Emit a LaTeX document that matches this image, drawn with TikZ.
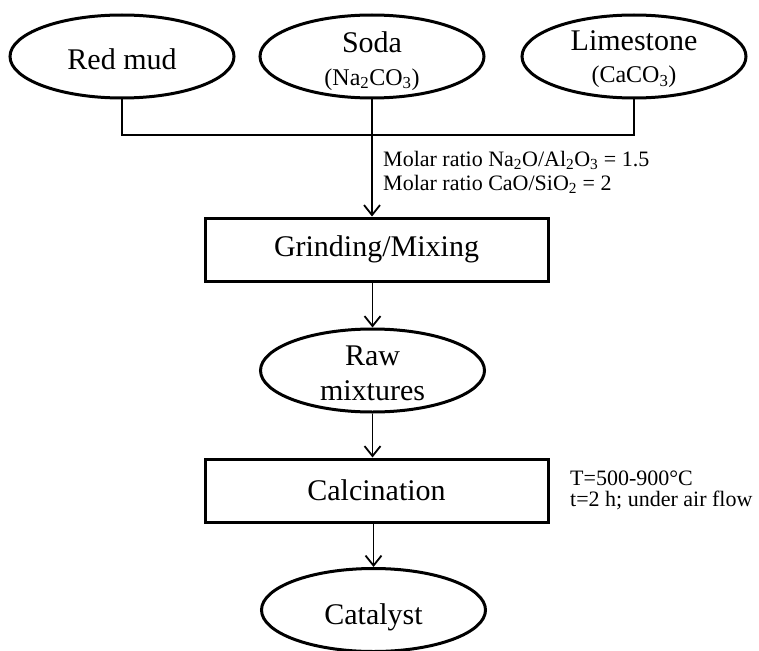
\documentclass[tikz,border=0pt]{standalone}
\usepackage{fontspec}
\setmainfont{Liberation Serif}
\usetikzlibrary{shapes.geometric,arrows.meta}
\newcommand\mybigfont{\fontsize{30}{32}\selectfont}
\newcommand\mymidfont{\fontsize{24}{28}\selectfont}
\newcommand\mysmallfont{\fontsize{22}{20}\selectfont}
\begin{document}
\begin{tikzpicture}[x=1pt,y=-1pt,
  oval/.style={ellipse,draw,line width=3pt,minimum width=224pt,minimum height=83pt,inner sep=0pt,align=center,font=\mybigfont},
  procbox/.style={rectangle,draw,line width=3pt,minimum width=343pt,minimum height=63pt,inner sep=0pt,font=\mybigfont},
  bigtext/.style={font=\mybigfont,inner sep=0pt,anchor=base},
  midtext/.style={font=\mymidfont,inner sep=0pt,anchor=base},
  conn/.style={line width=1.8pt},
  flow/.style={conn,-{Straight Barb[length=10pt,width=16pt,line width=1.8pt]}},
  note/.style={font=\mysmallfont,inner sep=0pt,anchor=base west}]
\useasboundingbox (0,0) rectangle (759,650);

\node[oval] (red) at (122,56.5) {};
\node[bigtext] (redtxt) at (122,70) {Red mud};
\node[oval] (soda) at (372,56.5) {};
\node[bigtext] (sodatxt) at (372,53) {Soda};
\node[midtext] (sodaform) at (372,85) {(Na\textsubscript{2}CO\textsubscript{3})};
\node[oval] (lime) at (634,56.5) {};
\node[bigtext] (limetxt) at (634,51) {Limestone};
\node[midtext] (limeform) at (634,83) {(CaCO\textsubscript{3})};

\coordinate (jm) at (372,135);
\draw[conn] (red.south) |- (lime.south |- jm) -- (lime.south);
\draw[conn] (soda.south) -- (jm);

\node[procbox] (grind) at (376.5,249.5) {Grinding/Mixing};
\draw[flow] (jm) -- (grind.north -| jm);

\node[note] (ratio1) at (383,166) {Molar ratio Na\textsubscript{2}O/Al\textsubscript{2}O\textsubscript{3} = 1.5};
\node[note] (ratio2) at (383,190) {Molar ratio CaO/SiO\textsubscript{2} = 2};

\node[oval] (raw) at (372.5,370.5) {};
\node[bigtext] (rawtxt1) at (372.5,365) {Raw};
\node[bigtext] (rawtxt2) at (372.5,400) {mixtures};
\draw[flow] (grind.south -| raw) -- (raw.north);

\node[procbox] (calc) at (376.5,490.5) {Calcination};
\draw[flow] (raw.south) -- (calc.north -| raw);

\node[note] (temp1) at (570,485) {T=500-900°C};
\node[note] (temp2) at (570,506) {t=2 h; under air flow};

\node[oval] (cat) at (373.5,610) {};
\node[bigtext] (cattxt) at (373.5,624) {Catalyst};
\draw[flow] (calc.south -| cat) -- (cat.north);
\end{tikzpicture}
\end{document}
